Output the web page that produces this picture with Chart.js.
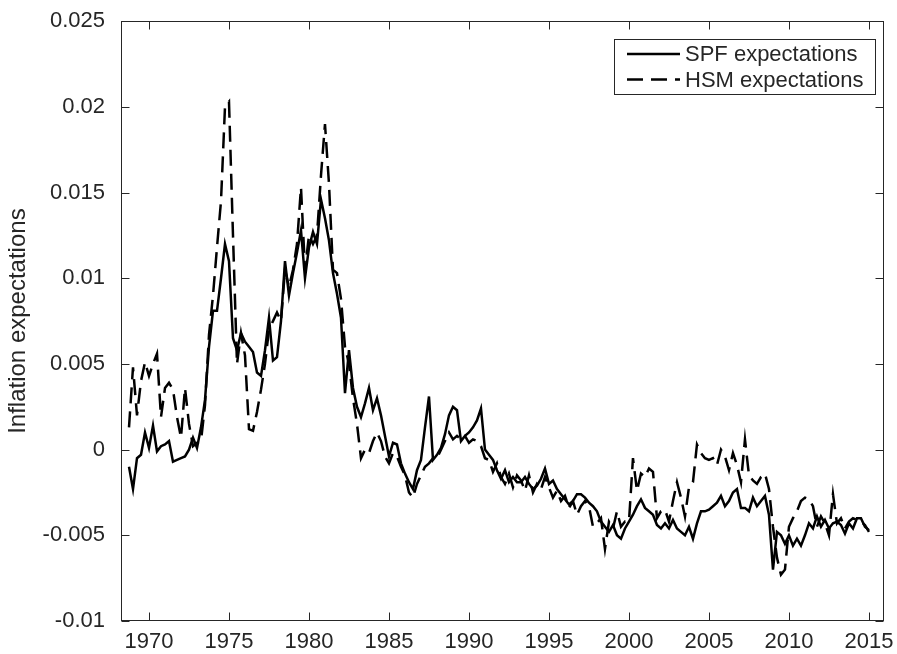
<!DOCTYPE html>
<html><head><meta charset="utf-8">
<script src="https://cdn.jsdelivr.net/npm/chart.js@4"></script>
<style>html,body{margin:0;padding:0;background:#fff}#wrap{width:897px;height:654px}</style>
</head><body><div id="wrap"><canvas id="c" width="897" height="654"></canvas></div>
<script>
// Quarterly observations, first at 1968Q4
const startYear = 1968.75;
const stepYear = 0.25;

const spf = [
 -0.0010,-0.0023,-0.0005,-0.0003,0.0010,0.0001,0.0014,-0.0001,0.0002,0.0003,
 0.0005,-0.0007,-0.0006,-0.0005,-0.0004,0.0000,0.0007,0.0001,0.0013,0.0029,
 0.0060,0.0081,0.0081,0.0100,0.0120,0.0110,0.0065,0.0058,0.0068,0.0063,
 0.0060,0.0057,0.0045,0.0043,0.0058,0.0077,0.0052,0.0054,0.0075,0.0110,
 0.0090,0.0103,0.0115,0.0128,0.0100,0.0118,0.0127,0.0120,0.0146,0.0135,
 0.0122,0.0103,0.0091,0.0077,0.0033,0.0058,0.0036,0.0025,0.0019,0.0027,
 0.0036,0.0023,0.0030,0.0020,0.0008,-0.0004,0.0004,0.0003,-0.0008,-0.0014,
 -0.0019,-0.0023,-0.0012,-0.0006,0.0013,0.0031,-0.0006,-0.0003,0.0001,0.0009,
 0.0020,0.0025,0.0023,0.0005,0.0008,0.0010,0.0013,0.0017,0.0024,0.0000,
 -0.0003,-0.0006,-0.0012,-0.0017,-0.0012,-0.0019,-0.0016,-0.0019,-0.0019,-0.0016,
 -0.0020,-0.0023,-0.0021,-0.0017,-0.0011,-0.0020,-0.0018,-0.0023,-0.0026,-0.0029,
 -0.0032,-0.0030,-0.0026,-0.0026,-0.0028,-0.0031,-0.0033,-0.0036,-0.0042,-0.0045,
 -0.0048,-0.0044,-0.0050,-0.0052,-0.0046,-0.0042,-0.0038,-0.0033,-0.0029,-0.0034,
 -0.0036,-0.0038,-0.0044,-0.0046,-0.0043,-0.0046,-0.0041,-0.0046,-0.0048,-0.0050,
 -0.0045,-0.0052,-0.0043,-0.0036,-0.0036,-0.0035,-0.0033,-0.0031,-0.0027,-0.0033,
 -0.0030,-0.0025,-0.0023,-0.0034,-0.0034,-0.0036,-0.0028,-0.0033,-0.0030,-0.0027,
 -0.0038,-0.0070,-0.0048,-0.0050,-0.0055,-0.0050,-0.0056,-0.0052,-0.0056,-0.0050,
 -0.0043,-0.0046,-0.0039,-0.0045,-0.0041,-0.0046,-0.0043,-0.0042,-0.0044,-0.0049,
 -0.0043,-0.0046,-0.0040,-0.0040,-0.0045,-0.0047
];

const hsm = [
 0.0013,0.0048,0.0020,0.0040,0.0051,0.0043,0.0050,0.0056,0.0019,0.0036,
 0.0039,0.0035,0.0019,0.0007,0.0036,0.0015,0.0002,0.0004,0.0005,0.0026,
 0.0067,0.0090,0.0118,0.0145,0.0200,0.0203,0.0125,0.0050,0.0068,0.0055,
 0.0012,0.0011,0.0022,0.0035,0.0050,0.0070,0.0075,0.0080,0.0075,0.0105,
 0.0095,0.0105,0.0120,0.0153,0.0105,0.0125,0.0120,0.0125,0.0160,0.0190,
 0.0155,0.0105,0.0103,0.0088,0.0060,0.0050,0.0030,0.0015,-0.0005,0.0000,
 -0.0002,0.0005,0.0010,0.0005,-0.0004,-0.0008,-0.0002,-0.0004,-0.0010,-0.0015,
 -0.0025,-0.0028,-0.0020,-0.0015,-0.0010,-0.0008,-0.0005,-0.0005,0.0000,0.0005,
 0.0010,0.0006,0.0008,0.0006,0.0008,0.0004,0.0006,0.0005,0.0002,-0.0005,
 -0.0006,-0.0013,-0.0008,-0.0016,-0.0020,-0.0014,-0.0022,-0.0015,-0.0018,-0.0024,
 -0.0015,-0.0025,-0.0020,-0.0023,-0.0016,-0.0022,-0.0028,-0.0024,-0.0030,-0.0027,
 -0.0034,-0.0030,-0.0038,-0.0033,-0.0030,-0.0033,-0.0045,-0.0043,-0.0040,-0.0058,
 -0.0042,-0.0046,-0.0036,-0.0045,-0.0042,-0.0042,-0.0005,-0.0024,-0.0014,-0.0016,
 -0.0011,-0.0013,-0.0040,-0.0036,-0.0035,-0.0042,-0.0030,-0.0019,-0.0028,-0.0039,
 -0.0022,-0.0019,0.0003,-0.0002,-0.0005,-0.0006,-0.0005,-0.0009,0.0000,-0.0004,
 -0.0012,-0.0002,-0.0009,-0.0019,0.0006,-0.0015,-0.0018,-0.0020,-0.0016,-0.0014,
 -0.0023,-0.0045,-0.0063,-0.0073,-0.0070,-0.0045,-0.0040,-0.0036,-0.0030,-0.0028,
 -0.0029,-0.0033,-0.0045,-0.0039,-0.0043,-0.0050,-0.0026,-0.0043,-0.0040,-0.0046,
 -0.0042,-0.0040,-0.0041,-0.0042,-0.0044,-0.0048
];

const seriesNames = ['SPF expectations', 'HSM expectations'];
const xTicks = [1970, 1975, 1980, 1985, 1990, 1995, 2000, 2005, 2010, 2015];
const yTicks = [-0.01, -0.005, 0, 0.005, 0.01, 0.015, 0.02, 0.025];
const yTickLabels = ['-0.01', '-0.005', '0', '0.005', '0.01', '0.015', '0.02', '0.025'];
const yTitle = 'Inflation expectations';

const toPoints = arr => arr.map((v, i) => ({ x: startYear + i * stepYear, y: v }));

const INK = '#262626';
const FONT = "'Liberation Sans', Arial, Helvetica, sans-serif";
const FS = 22;

const boxTicks = {
  id: 'boxTicks',
  afterDraw(chart) {
    const { ctx, chartArea: a, scales } = chart;
    const L = Math.round(a.left) + 0.5, R = Math.round(a.right) - 0.5;
    const T = Math.round(a.top) + 0.5, B = Math.round(a.bottom) - 0.5;
    ctx.save();
    ctx.strokeStyle = INK; ctx.lineWidth = 1;
    ctx.strokeRect(L, T, R - L, B - T);
    const tl = 8;
    ctx.beginPath();
    xTicks.forEach(v => {
      const px = Math.round(scales.x.getPixelForValue(v)) + 0.5;
      ctx.moveTo(px, B); ctx.lineTo(px, B - tl);
      ctx.moveTo(px, T); ctx.lineTo(px, T + tl);
    });
    yTicks.forEach(v => {
      const py = Math.round(scales.y.getPixelForValue(v)) + 0.5;
      ctx.moveTo(L, py); ctx.lineTo(L + tl, py);
      ctx.moveTo(R, py); ctx.lineTo(R - tl, py);
    });
    ctx.stroke();

    // legend box (top-right, inside axes)
    const lx = 614.5, ly = 39.5, lw = 261, lh = 55;
    ctx.fillStyle = '#fff';
    ctx.fillRect(lx, ly, lw, lh);
    ctx.strokeRect(lx, ly, lw, lh);
    ctx.font = FS + 'px ' + FONT;
    ctx.textBaseline = 'middle';
    ctx.textAlign = 'left';
    chart.data.datasets.forEach((ds, i) => {
      const yy = 54 + i * 25.5;
      ctx.save();
      ctx.strokeStyle = ds.borderColor; ctx.lineWidth = ds.borderWidth;
      ctx.setLineDash(ds.borderDash || []);
      ctx.beginPath(); ctx.moveTo(627, yy); ctx.lineTo(680, yy); ctx.stroke();
      ctx.restore();
      ctx.fillStyle = INK;
      ctx.fillText(ds.label, 685, yy + 1);
    });
    ctx.restore();
  }
};

new Chart(document.getElementById('c'), {
  type: 'line',
  data: {
    datasets: [
      { label: seriesNames[0], data: toPoints(spf), borderColor: '#000', borderWidth: 2.5,
        pointRadius: 0, tension: 0, fill: false },
      { label: seriesNames[1], data: toPoints(hsm), borderColor: '#000', borderWidth: 2.5,
        borderDash: [16, 8], pointRadius: 0, tension: 0, fill: false }
    ]
  },
  options: {
    responsive: false, animation: false, devicePixelRatio: 1,
    layout: { padding: { left: 0, top: 20, right: 13, bottom: 0 } },
    plugins: { legend: { display: false }, tooltip: { enabled: false } },
    scales: {
      x: {
        type: 'linear', min: 1968.25, max: 2015.94,
        grid: { display: false }, border: { display: false },
        afterBuildTicks: s => { s.ticks = xTicks.map(v => ({ value: v })); },
        afterFit: s => { s.height = 33; },
        ticks: { color: INK, font: { family: FONT, size: FS }, padding: 0, maxRotation: 0,
          callback: v => String(v) }
      },
      y: {
        type: 'linear', min: -0.01, max: 0.025,
        grid: { display: false }, border: { display: false },
        afterBuildTicks: s => { s.ticks = yTicks.map(v => ({ value: v })); },
        afterFit: s => { s.width = 121; },
        ticks: { color: INK, font: { family: FONT, size: FS }, padding: 8,
          callback: v => yTickLabels[yTicks.findIndex(t => Math.abs(t - v) < 1e-9)] },
        title: { display: true, text: yTitle, color: INK,
          font: { family: FONT, size: 24 }, padding: { top: 4, bottom: 0 } }
      }
    }
  },
  plugins: [boxTicks]
});
</script>
</body></html>
